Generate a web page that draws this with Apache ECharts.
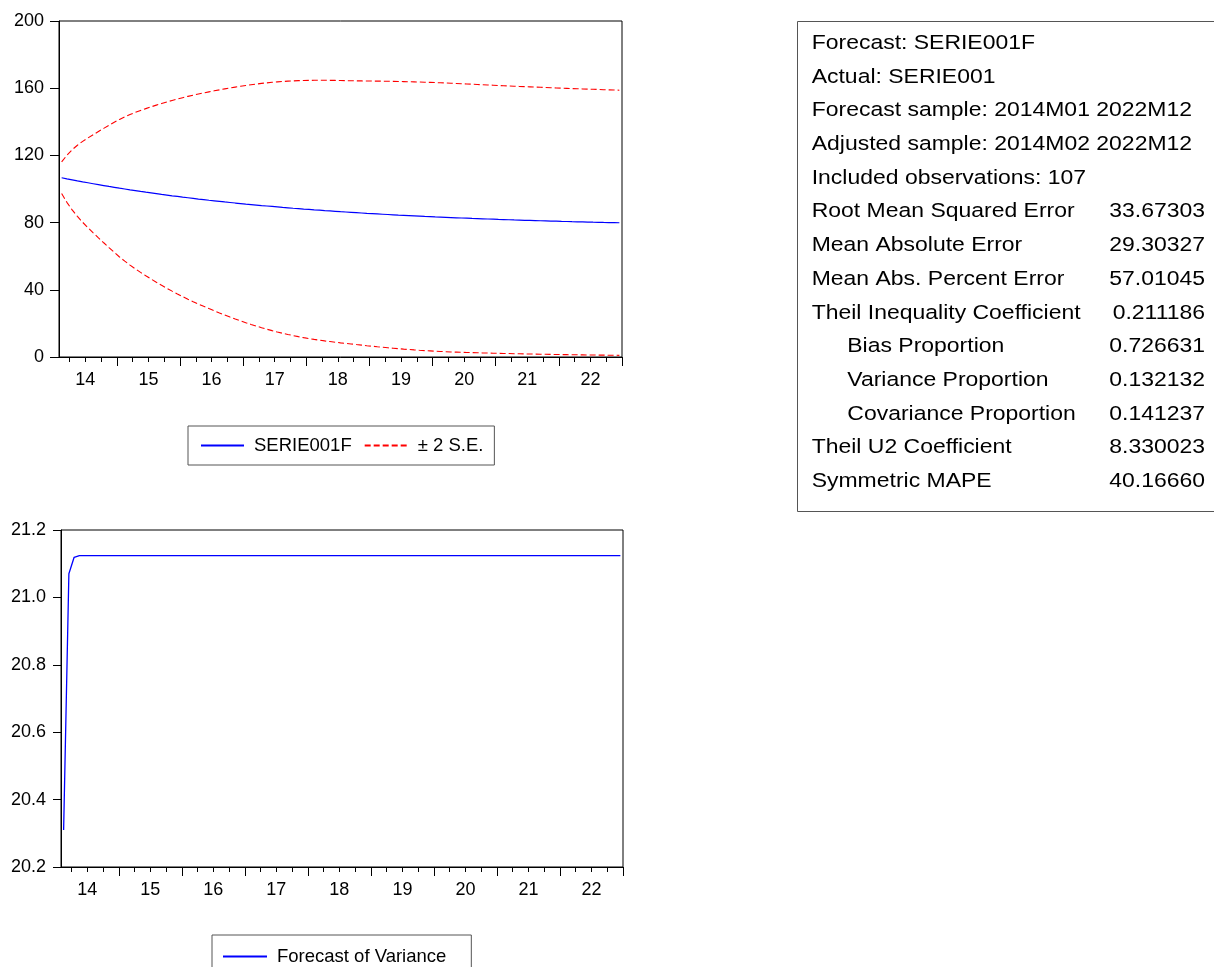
<!DOCTYPE html>
<html><head><meta charset="utf-8">
<script src="https://cdn.jsdelivr.net/npm/echarts@6/dist/echarts.min.js"></script>
<style>html,body{margin:0;padding:0;background:#fff}#c{width:1214px;height:967px}</style>
</head><body><div id="c"></div>
<script>
// ---------- data ----------
const startYear = 2014, startMonth = 2;          // adjusted sample starts 2014M02
const yearLabels = ['14','15','16','17','18','19','20','21','22'];

const forecast = [
106.70,106.07,105.46,104.86,104.27,103.70,103.13,102.58,102.04,101.51,100.99,100.48,
99.99,99.50,99.03,98.56,98.10,97.66,97.22,96.79,96.37,95.96,95.56,95.16,
94.78,94.40,94.03,93.67,93.31,92.97,92.63,92.29,91.97,91.65,91.34,91.03,
90.73,90.44,90.15,89.87,89.60,89.33,89.06,88.81,88.55,88.31,88.06,87.83,
87.59,87.37,87.14,86.93,86.71,86.50,86.30,86.10,85.90,85.71,85.52,85.34,
85.16,84.98,84.81,84.64,84.47,84.31,84.15,83.99,83.84,83.69,83.55,83.40,
83.26,83.13,82.99,82.86,82.73,82.61,82.48,82.36,82.24,82.13,82.02,81.90,
81.80,81.69,81.58,81.48,81.38,81.29,81.19,81.10,81.00,80.91,80.83,80.74,
80.66,80.57,80.49,80.41,80.34,80.26,80.19,80.11,80.04,79.97,79.90];

const twoSE = [
9.4,14.0,17.9,21.2,24.1,26.7,29.2,31.65,34.05,36.4,38.7,40.95,
42.95,44.8,46.55,48.2,49.75,51.25,52.7,54.1,55.45,56.75,58.0,59.2,
60.35,61.45,62.5,63.52,64.51,65.47,66.4,67.3,68.17,69.01,69.82,70.6,
71.34,72.04,72.7,73.32,73.9,74.44,74.94,75.4,75.82,76.2,76.54,76.84,
77.11,77.35,77.56,77.75,77.92,78.07,78.2,78.32,78.48,78.63,78.78,78.92,
79.06,79.19,79.31,79.42,79.52,79.61,79.69,79.76,79.82,79.87,79.91,79.94,
79.96,79.97,79.97,79.97,79.96,79.92,79.89,79.85,79.82,79.78,79.75,79.71,
79.68,79.64,79.61,79.57,79.54,79.50,79.47,79.43,79.40,79.36,79.33,79.29,
79.26,79.22,79.19,79.15,79.12,79.08,79.05,79.01,78.98,78.94,78.91];

const variance = [
20.31,21.07,21.119,
21.124,21.124,21.124,21.124,21.124,21.124,21.124,21.124,21.124,21.124,21.124,21.124,21.124,
21.124,21.124,21.124,21.124,21.124,21.124,21.124,21.124,21.124,21.124,21.124,21.124,21.124,
21.124,21.124,21.124,21.124,21.124,21.124,21.124,21.124,21.124,21.124,21.124,21.124,21.124,
21.124,21.124,21.124,21.124,21.124,21.124,21.124,21.124,21.124,21.124,21.124,21.124,21.124,
21.124,21.124,21.124,21.124,21.124,21.124,21.124,21.124,21.124,21.124,21.124,21.124,21.124,
21.124,21.124,21.124,21.124,21.124,21.124,21.124,21.124,21.124,21.124,21.124,21.124,21.124,
21.124,21.124,21.124,21.124,21.124,21.124,21.124,21.124,21.124,21.124,21.124,21.124,21.124,
21.124,21.124,21.124,21.124,21.124,21.124,21.124,21.124,21.124,21.124,21.124,21.124,21.124];

const topYTicks = {min: 0, max: 200, interval: 40};
const botYTicks = {min: 20.2, max: 21.2, interval: 0.2};

const tableHeader = ['Forecast: SERIE001F','Actual: SERIE001','Forecast sample: 2014M01 2022M12',
  'Adjusted sample: 2014M02 2022M12','Included observations: 107'];
const statNames = ['Root Mean Squared Error','Mean Absolute Error','Mean Abs. Percent Error',
  'Theil Inequality Coefficient','Bias Proportion','Variance Proportion','Covariance Proportion',
  'Theil U2 Coefficient','Symmetric MAPE'];
const statValues = ['33.67303','29.30327','57.01045','0.211186','0.726631','0.132132','0.141237','8.330023','40.16660'];
const statIndent = [0,0,0,0,1,1,1,0,0];

// ---------- derived ----------
const months = forecast.map((_, i) => {
  const t = startMonth - 1 + i;
  return (startYear + Math.floor(t / 12)) + 'M' + String(t % 12 + 1).padStart(2, '0');
});
const upper = forecast.map((f, i) => +(f + twoSE[i]).toFixed(2));
const lower = forecast.map((f, i) => +(f - twoSE[i]).toFixed(2));
const axisMin = startMonth - 1, axisMax = axisMin + months.length;

const FONT = '"Liberation Sans", Arial, sans-serif';
const AXIS_FS = 18;
const isQuarter = v => ['01','04','07','10'].includes(v.slice(-2));
const isJan = v => v.slice(-2) === '01';

function xAxes(g) {
  return [
    {gridIndex: g, type: 'category', data: months, boundaryGap: true, position: 'bottom',
     axisLine: {show: true, onZero: false, lineStyle: {color: '#000', width: 1}},
     axisTick: {show: true, interval: (i, v) => isQuarter(v), length: 5, lineStyle: {color: '#000'}},
     axisLabel: {show: false}, splitLine: {show: false}},
    {gridIndex: g, type: 'category', data: months, boundaryGap: true, position: 'bottom',
     axisLine: {show: false, onZero: false},
     axisTick: {show: true, interval: (i, v) => isJan(v), length: 9, lineStyle: {color: '#000'}},
     axisLabel: {show: false}, splitLine: {show: false}},
    {gridIndex: g, type: 'value', min: axisMin, max: axisMax, interval: 1, position: 'bottom',
     axisLine: {show: false, onZero: false}, axisTick: {show: false}, splitLine: {show: false},
     axisLabel: {show: true, margin: 14, fontSize: AXIS_FS, fontFamily: FONT, color: '#000',
       formatter: v => { const k = (Math.round(v) - 6) / 12;
         return (Number.isInteger(k) && k >= 0 && k < yearLabels.length) ? yearLabels[k] : ''; }}}
  ];
}
function yAxis(g, t, fmt, tickLen) {
  return {gridIndex: g, type: 'value', min: t.min, max: t.max, interval: t.interval,
    axisLine: {show: true, lineStyle: {color: '#000', width: 1}},
    axisTick: {show: true, length: tickLen, lineStyle: {color: '#000'}},
    splitLine: {show: false},
    axisLabel: {margin: 15, fontSize: AXIS_FS, fontFamily: FONT, color: '#000', padding: [0, 0, 6, 0], formatter: fmt}};
}

// table graphic
const tableEls = [];
tableEls.push({type: 'rect', shape: {x: 797.5, y: 21.5, width: 440, height: 490}, z: 1,
  style: {fill: '#fff', stroke: '#555', lineWidth: 1}});
const rowY0 = 43.3, rowStep = 33.7;
const txt = (s, x, y, align) => ({type: 'text', x: x, y: y, scaleX: 1.12, z: 2,
  style: {text: s, x: 0, y: 0, fill: '#000', fontSize: 20.5, fontFamily: FONT,
    textAlign: align, textVerticalAlign: 'middle'}});
tableHeader.forEach((s, i) => tableEls.push(txt(s, 811.7, rowY0 + i * rowStep, 'left')));
statNames.forEach((s, i) => {
  const y = rowY0 + (tableHeader.length + i) * rowStep;
  tableEls.push(txt(s, statIndent[i] ? 847.3 : 811.7, y, 'left'));
  tableEls.push(txt(statValues[i], 1205, y, 'right'));
});

const chart = echarts.init(document.getElementById('c'), null, {renderer: 'canvas'});
chart.setOption({
  animation: false,
  backgroundColor: '#fff',
  textStyle: {fontFamily: FONT},
  grid: [
    {left: 59, top: 21, width: 563, height: 336, show: true, borderColor: '#000', borderWidth: 1, backgroundColor: 'transparent'},
    {left: 61, top: 530, width: 562, height: 337, show: true, borderColor: '#000', borderWidth: 1, backgroundColor: 'transparent'}
  ],
  xAxis: [...xAxes(0), ...xAxes(1)],
  yAxis: [yAxis(0, topYTicks, v => String(v), 9), yAxis(1, botYTicks, v => v.toFixed(1), 8)],
  legend: [
    {data: ['SERIE001F', '± 2 S.E.'], left: 188, top: 426, orient: 'horizontal',
     padding: [10, 11, 10, 12], itemGap: 12, itemWidth: 43, itemHeight: 14,
     borderColor: '#555', borderWidth: 1, backgroundColor: '#fff', selectedMode: false,
     itemStyle: {opacity: 0},
     textStyle: {fontSize: 18.5, fontFamily: FONT, color: '#000', padding: [0, 0, 0, 5]}},
    {data: ['Forecast of Variance'], left: 212, top: 935, orient: 'horizontal',
     padding: [12, 25, 20, 10], itemWidth: 44, itemHeight: 14,
     borderColor: '#555', borderWidth: 1, backgroundColor: '#fff', selectedMode: false,
     itemStyle: {opacity: 0},
     textStyle: {fontSize: 18.5, fontFamily: FONT, color: '#000', padding: [0, 0, 0, 5]}}
  ],
  series: [
    {name: 'SERIE001F', type: 'line', xAxisIndex: 0, yAxisIndex: 0, data: forecast,
     symbol: 'none', showSymbol: false, color: '#0000ff', lineStyle: {color: '#0000ff', width: 1.2}},
    {name: '± 2 S.E.', type: 'line', xAxisIndex: 0, yAxisIndex: 0, data: upper,
     symbol: 'none', showSymbol: false, color: '#ff0000', lineStyle: {color: '#ff0000', width: 1.1, type: [6, 3]}},
    {name: '± 2 S.E.', type: 'line', xAxisIndex: 0, yAxisIndex: 0, data: lower,
     symbol: 'none', showSymbol: false, color: '#ff0000', lineStyle: {color: '#ff0000', width: 1.1, type: [6, 3]}},
    {name: 'Forecast of Variance', type: 'line', xAxisIndex: 3, yAxisIndex: 1, data: variance,
     symbol: 'none', showSymbol: false, color: '#0000ff', lineStyle: {color: '#0000ff', width: 1.3}}
  ],
  graphic: tableEls
});
</script></body></html>
